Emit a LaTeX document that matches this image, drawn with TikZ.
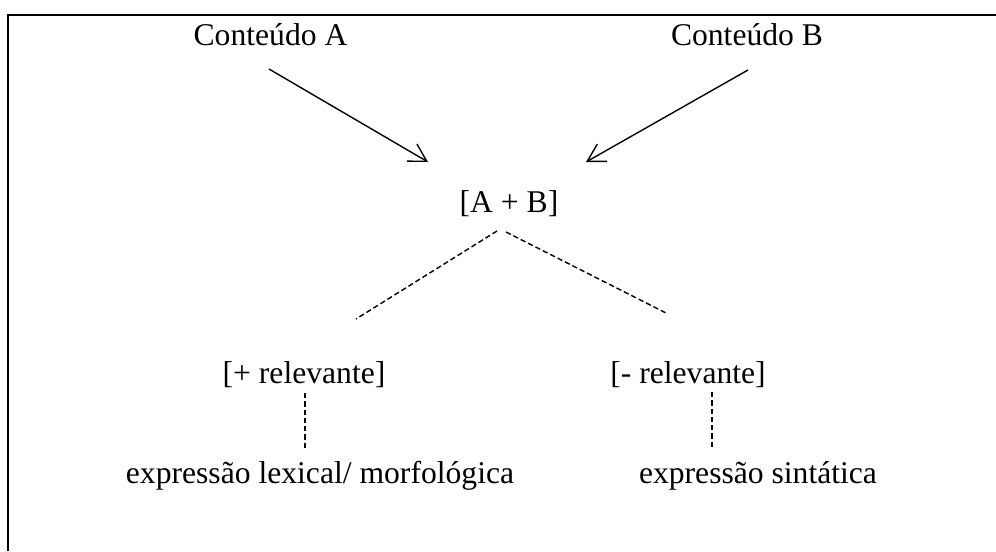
\documentclass[tikz,border=0pt]{standalone}
\usepackage{fontspec}
\setmainfont{Liberation Serif}
\usetikzlibrary{arrows.meta,calc,positioning}

\tikzset{
  txt/.style={inner sep=0pt,anchor=base,font=\fontsize{18}{22}\selectfont},
  seta/.style={line width=0.8pt,-{Straight Barb[length=9.8pt,width=11.3pt,line width=0.8pt]}},
  tracejado/.style={line width=0.8pt,dash pattern=on 3pt off 1.7pt}
}

\begin{document}
\begin{tikzpicture}[x=0.02cm,y=-0.02cm]
\useasboundingbox (0,0) rectangle (996,551);
% moldura (aberta em baixo e a direita)
\draw[line width=1.4pt] (8,551) -- (8,15) -- (996,15);
\node[txt] (contA) at (270.5,45) {Conteúdo A};
\node[txt] (contB) at (747,45) {Conteúdo B};
\node[txt] (soma) at (509,212) {[A + B]};
\node[txt] (mais) at (304,383) {[+ relevante]};
\node[txt] (menos) at (688,383) {[- relevante]};
\node[txt] (lex) at (320,483) {expressão lexical/ morfológica};
\node[txt] (sint) at (758,483) {expressão sintática};
\draw[seta] ($(contA.base)+(-1.5,24)$) -- ($(soma.base)+(-81,-50)$);
\draw[seta] ($(contB.base)+(1,25)$) -- ($(soma.base)+(77,-50)$);
\draw[tracejado] ($(soma.base)+(-12,19)$) -- ($(mais.base)+(52,-64)$);
\draw[tracejado] ($(soma.base)+(-3,20)$) -- ($(menos.base)+(-20,-69)$);
\draw[tracejado] ($(mais.base)+(1,10)$) -- ($(lex.base)+(-15,-35)$);
\draw[tracejado] ($(menos.base)+(24,9)$) -- ($(sint.base)+(-46,-35)$);
\end{tikzpicture}
\end{document}
